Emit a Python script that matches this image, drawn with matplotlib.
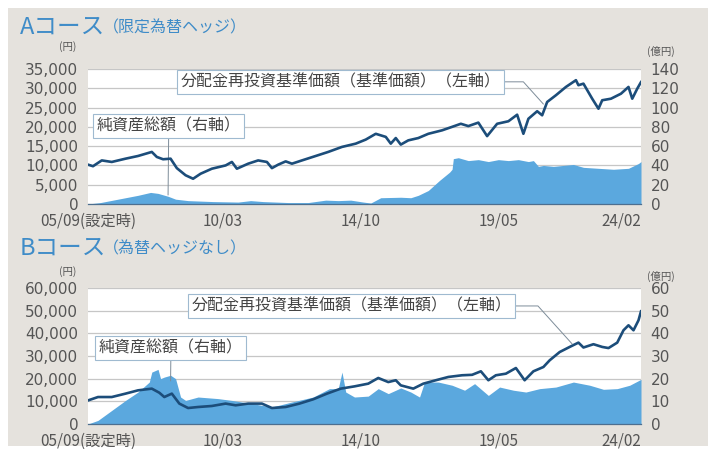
import numpy as np
import matplotlib
matplotlib.use('Agg')
import matplotlib.pyplot as plt
from matplotlib.patches import Rectangle

JP = ['Noto Sans CJK JP', 'DejaVu Sans']

# 月インデックス (0 = 2005/09, 221 = 2024/02)
x_ticks = [0, 54, 109, 164, 221]
x_labels = ['05/09(設定時)', '10/03', '14/10', '19/05', '24/02']

# Aコース 基準価額 (円)
a_nav_m = [0, 2, 5.5, 9.5, 15, 20, 25.5, 27.5, 30, 33, 35.5, 39, 42, 45, 49.5, 55, 57.5, 59.5,
           64, 68, 71.5, 73.5, 76, 79, 81.5, 85.5, 91, 96, 101.5, 107, 111, 115, 119, 121,
           123, 125, 128, 132, 136, 141.5, 145.5, 149, 152, 156, 159.5, 163.5, 168, 171.5,
           174, 176, 179.5, 181.5, 183.5, 187, 191, 195, 196, 198, 201.5, 204, 205.5, 209,
           213, 216, 217.5, 219.5, 221]
a_nav = [10200, 9800, 11300, 10900, 11750, 12450, 13500, 12200, 11600, 11750, 9300, 7450,
         6550, 7850, 9150, 10000, 10900, 9150, 10450, 11300, 10900, 9300, 10200, 11050, 10450,
         11300, 12450, 13500, 14800, 15650, 16700, 18200, 17400, 15650, 17100, 15400, 16500,
         17100, 18200, 19100, 20000, 20800, 20200, 21100, 17600, 20800, 21450, 23150, 18200,
         22100, 24050, 23000, 26450, 28200, 30350, 32100, 30800, 31200, 27300, 24700, 26900,
         27300, 28600, 30350, 27300, 29900, 31600]

# Aコース 純資産総額 (億円)
a_aum_m = [0, 5, 10, 15, 20, 25, 28, 32, 35, 40, 50, 60, 65, 70, 80, 88, 95, 100, 105, 110,
           113, 117, 125, 129, 132, 136, 140.5, 144.5, 145.5, 146, 148, 152, 156, 160, 164,
           168, 172, 176, 178, 180, 182, 186, 190, 194, 198, 204, 210, 216, 220, 221]
a_aum = [0, 1.5, 4, 6.5, 9, 12, 11, 8, 5, 3.5, 2.5, 2, 3.5, 2.5, 1.5, 1.5, 4, 3.5, 4, 2,
         1, 6.5, 7, 6.5, 9, 14, 24.5, 33, 36, 47, 48, 45, 46, 44, 46, 45, 46, 44, 45, 39,
         40, 39, 40, 41, 38, 37, 36, 37, 42, 44]

# Bコース 基準価額 (円)
b_nav_m = [0, 4, 9.5, 15, 20, 25.5, 28.5, 30.5, 33.5, 36.5, 40, 44, 49.5, 55, 59, 64, 69.5,
           73.5, 79, 84.5, 90, 95.5, 101, 106.5, 112, 116, 120, 123, 125, 130, 134, 139, 144,
           149.5, 153.5, 157, 160, 163, 167, 171, 174.5, 178, 182, 184.5, 188.5, 192.5, 196,
           198, 202, 205.5, 208, 211.5, 214, 216, 218, 220, 221]
b_nav = [10400, 11900, 11900, 13400, 14850, 15600, 13800, 11900, 13400, 9000, 7050, 7500,
         7950, 9000, 8250, 9000, 9000, 7050, 7500, 9000, 10900, 13400, 15600, 16600, 17800,
         20300, 18500, 19300, 17050, 15600, 17800, 19300, 20750, 21500, 21700, 23250, 19300,
         21500, 22200, 24700, 19300, 23250, 25150, 28100, 31750, 34000, 35900, 33750, 35200,
         34000, 33500, 35900, 41350, 43550, 41350, 45750, 49700]

# Bコース 純資産総額 (億円)
b_aum_m = [0, 4, 9.5, 15, 20, 24.5, 25.5, 28, 29, 30.5, 33, 35, 37, 39, 44, 52, 57.5, 65.5,
           73.5, 81.5, 90, 96.5, 100, 101.5, 103, 106.5, 112, 116, 120, 125, 129, 132.5,
           134.5, 140, 145.5, 150.5, 154.5, 160, 164.5, 170, 175, 180.5, 187, 194, 200.5,
           206, 211.5, 216.5, 221]
b_aum = [0, 1.6, 6, 10.4, 14.1, 18.5, 22.9, 24.1, 20, 20.7, 21.5, 20, 11.9, 10.4, 11.9, 11.2,
         10.4, 9, 7.5, 9.7, 11.9, 15.6, 15.6, 22.9, 14.1, 11.9, 12.3, 15.6, 13.4, 15.9, 14.1,
         11.9, 18.5, 18.5, 17.1, 14.9, 17.8, 12.6, 16.3, 14.9, 14.1, 15.6, 16.3, 18.5, 17.1,
         15.3, 15.6, 17.1, 19.7]

a_left_ticks = [0, 5000, 10000, 15000, 20000, 25000, 30000, 35000]
a_right_ticks = [0, 20, 40, 60, 80, 100, 120, 140]
b_left_ticks = [0, 10000, 20000, 30000, 40000, 50000, 60000]
b_right_ticks = [0, 10, 20, 30, 40, 50, 60]

W, H = 714, 449
LINE_C = '#1c4d7a'
AREA_C = '#5ba8de'
BG_C = '#e5e2dd'
TXT_C = '#555555'
TITLE_C = '#3f8cc8'
BOX_C = '#9fbad0'

fig = plt.figure(figsize=(W / 100, H / 100), dpi=100)
fig.patch.set_facecolor('white')
fig.patches.append(Rectangle((8 / W, 1 - 446 / H), 700 / W, 438 / H, transform=fig.transFigure,
                             facecolor=BG_C, edgecolor='none', zorder=-10))


def rect(px0, py0, px1, py1):
    return [px0 / W, 1 - py1 / H, (px1 - px0) / W, (py1 - py0) / H]


def panel(r, nav_m, nav, aum_m, aum, lticks, rticks, line_pos, line_xy, aum_pos, aum_xy):
    ax = fig.add_axes(r)
    ax.set_facecolor('white')
    ax.fill_between(aum_m, aum, 0, color=AREA_C, lw=0, zorder=2)
    ax.set_xlim(0, 221)
    ax.set_ylim(rticks[0], rticks[-1])
    ax.yaxis.tick_right()
    ax.set_yticks(rticks)
    ax.set_yticklabels([str(v) for v in rticks])
    ax.grid(axis='y', color='#c6c6c6', lw=0.9)
    ax.set_axisbelow(True)
    for s in ['top', 'left', 'right']:
        ax.spines[s].set_visible(False)
    ax.spines['bottom'].set_color('#4d6f8f')
    ax.spines['bottom'].set_linewidth(0.9)
    ax.tick_params(axis='y', length=0, pad=7, labelsize=11, labelcolor=TXT_C)
    ax.set_xticks(x_ticks)
    ax.set_xticklabels(x_labels)
    ax.tick_params(axis='x', length=0, pad=6, labelsize=11, labelcolor=TXT_C)
    for t in ax.get_xticklabels():
        t.set_fontfamily(JP)
    ax.get_xticklabels()[-1].set_ha('right')

    ax.annotate('純資産総額（右軸）', xy=aum_xy, xycoords='data', xytext=aum_pos,
                textcoords='axes fraction',
                fontsize=11.5, family=JP, color='#444444', ha='center', va='center',
                bbox=dict(boxstyle='square,pad=0.22', fc='white', ec=BOX_C, lw=0.8),
                arrowprops=dict(arrowstyle='-', color='#7d8c99', lw=0.7, shrinkA=0, shrinkB=0),
                zorder=5)

    axl = fig.add_axes(r, sharex=ax)
    axl.patch.set_visible(False)
    axl.plot(nav_m, nav, color=LINE_C, lw=1.9, solid_joinstyle='round')
    axl.set_ylim(lticks[0], lticks[-1])
    axl.set_yticks(lticks)
    axl.set_yticklabels([f'{v:,}' for v in lticks])
    axl.tick_params(axis='y', length=0, pad=7, labelsize=11, labelcolor=TXT_C)
    axl.tick_params(axis='x', bottom=False, labelbottom=False)
    for s in axl.spines.values():
        s.set_visible(False)
    axl.annotate('分配金再投資基準価額（基準価額）（左軸）', xy=line_xy, xycoords='data',
                 xytext=line_pos, textcoords='axes fraction',
                 fontsize=11.5, family=JP, color='#444444', ha='center', va='center',
                 bbox=dict(boxstyle='square,pad=0.22', fc='white', ec=BOX_C, lw=0.8),
                 arrowprops=dict(arrowstyle='-', color='#7d8c99', lw=0.7, shrinkA=0, shrinkB=0,
                                 connectionstyle='angle,angleA=0,angleB=-48,rad=0'))
    return ax, axl


panel(rect(88, 69, 641, 204), a_nav_m, a_nav, a_aum_m, a_aum, a_left_ticks, a_right_ticks,
      (0.456, 0.905), (182, 25900), (0.146, 0.575), (32, 9.3))

panel(rect(88, 288, 641, 424), b_nav_m, b_nav, b_aum_m, b_aum, b_left_ticks, b_right_ticks,
      (0.476, 0.868), (193.5, 35300), (0.150, 0.56), (33, 19))

# タイトル・単位
for y0, big, small in [(27, 'Aコース', '（限定為替ヘッジ）'), (248, 'Bコース', '（為替ヘッジなし）')]:
    fig.text(20 / W, 1 - y0 / H, big, fontsize=17, family=JP, color=TITLE_C, va='center', ha='left')
    fig.text(103 / W, 1 - (y0 + 1) / H, small, fontsize=11.5, family=JP, color=TITLE_C,
             va='center', ha='left')

for y0 in [47, 272]:
    fig.text(68 / W, 1 - y0 / H, '(円)', fontsize=7.5, family=JP, color=TXT_C, ha='center', va='center')
    fig.text(661 / W, 1 - (y0 + 4) / H, '(億円)', fontsize=7.5, family=JP, color=TXT_C,
             ha='center', va='center')

fig.savefig('out.png', dpi=100)
